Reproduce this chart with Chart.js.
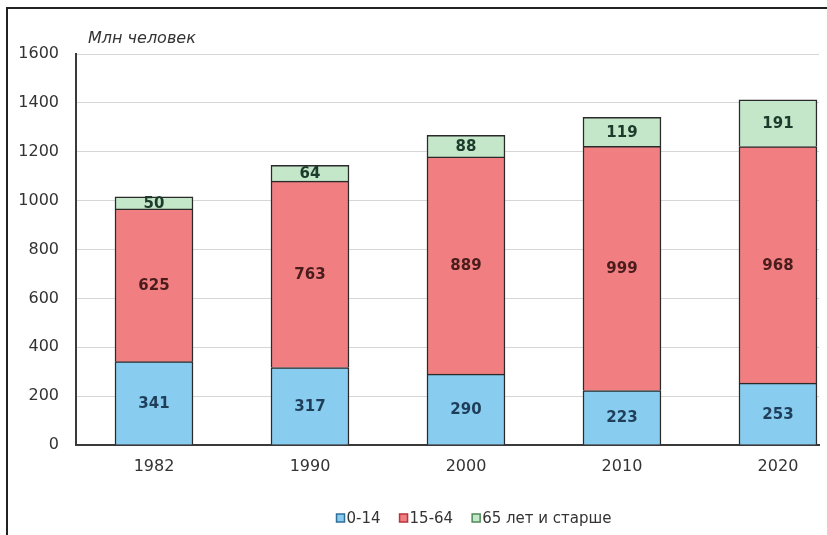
<!DOCTYPE html>
<html>
<head>
<meta charset="utf-8">
<script src="https://cdn.jsdelivr.net/npm/chart.js@4/dist/chart.umd.min.js"></script>
<style>
  html, body { margin: 0; padding: 0; background: #fff; }
  #wrap { position: relative; width: 827px; height: 535px; overflow: hidden; background: #fff; }
  #frame { position: absolute; left: 6px; top: 7px; right: -10px; bottom: -10px; border-left: 2px solid #222; border-top: 2px solid #222; pointer-events: none; }
  canvas { position: absolute; left: 0; top: 0; }
</style>
</head>
<body>
<div id="wrap">
  <canvas id="c" width="827" height="535"></canvas>
  <div id="frame"></div>
</div>
<script>
// ---- data ----
const categories = ['1982', '1990', '2000', '2010', '2020'];
const seriesNames = ['0-14', '15-64', '65 лет и старше'];
const age0_14 = [341, 317, 290, 223, 253];
const age15_64 = [625, 763, 889, 999, 968];
const age65plus = [50, 64, 88, 119, 191];
const yTicks = [0, 200, 400, 600, 800, 1000, 1200, 1400, 1600];
const unitLabel = 'Млн человек';

// ---- styles ----
const FONT = "'DejaVu Sans', sans-serif";
const fills = ['#88cdf0', '#f17f81', '#c4e6c9'];
const legendStrokes = ['#2f6f9a', '#b8333a', '#4f8a55'];
const labelColors = ['#1f3e5a', '#4a1c1c', '#1d3b2b'];

const toPoints = arr => arr.map((v, i) => ({ x: i, y: v }));

const valueLabels = {
  id: 'valueLabels',
  afterDatasetsDraw(chart) {
    const ctx = chart.ctx;
    ctx.save();
    ctx.font = 'bold 15px ' + FONT;
    ctx.textAlign = 'center';
    ctx.textBaseline = 'middle';
    chart.data.datasets.forEach((ds, di) => {
      const meta = chart.getDatasetMeta(di);
      meta.data.forEach((el, i) => {
        const v = ds.data[i].y;
        const cy = (el.y + el.base) / 2 + 1;
        ctx.fillStyle = labelColors[di];
        ctx.fillText(String(v), el.x, cy);
      });
    });
    ctx.restore();
  }
};

const unitTitle = {
  id: 'unitTitle',
  afterDraw(chart) {
    const ctx = chart.ctx;
    ctx.save();
    ctx.font = 'italic 16px ' + FONT;
    ctx.fillStyle = '#333';
    ctx.textAlign = 'left';
    ctx.textBaseline = 'alphabetic';
    ctx.fillText(unitLabel, 88, 43);
    ctx.restore();
  }
};

const bottomLegend = {
  id: 'bottomLegend',
  afterDraw(chart) {
    const ctx = chart.ctx;
    ctx.save();
    ctx.font = '15px ' + FONT;
    ctx.textBaseline = 'middle';
    const box = 8, gapBoxText = 2, gapItems = 19;
    const widths = chart.data.datasets.map(d => ctx.measureText(d.label).width);
    const total = widths.reduce((a, w) => a + box + gapBoxText + w, 0) + gapItems * (widths.length - 1);
    let x = 474 - total / 2;
    const cy = 518;
    chart.data.datasets.forEach((d, i) => {
      ctx.fillStyle = fills[i];
      ctx.fillRect(x, cy - box / 2, box, box);
      ctx.strokeStyle = legendStrokes[i];
      ctx.lineWidth = 1.5;
      ctx.strokeRect(x, cy - box / 2, box, box);
      x += box + gapBoxText;
      ctx.fillStyle = '#333';
      ctx.textAlign = 'left';
      ctx.fillText(d.label, x, cy + 1);
      x += widths[i] + gapItems;
    });
    ctx.restore();
  }
};

const mkDataset = (i, arr) => ({
  label: seriesNames[i],
  data: toPoints(arr),
  backgroundColor: fills[i],
  borderColor: '#2a2a2a',
  borderWidth: 1.5,
  borderSkipped: 'start',
  barThickness: 78
});

new Chart(document.getElementById('c'), {
  type: 'bar',
  data: {
    datasets: [mkDataset(0, age0_14), mkDataset(1, age15_64), mkDataset(2, age65plus)]
  },
  options: {
    responsive: false,
    animation: false,
    devicePixelRatio: 1,
    layout: { padding: { top: 54, right: 8, bottom: 34, left: 0 } },
    plugins: { legend: { display: false }, tooltip: { enabled: false } },
    scales: {
      x: {
        type: 'linear',
        stacked: true,
        offset: false,
        min: -0.5,
        max: 4.263,
        grid: { display: false, drawTicks: false, offset: false },
        border: { display: true, color: '#3a3a3a', width: 2 },
        afterBuildTicks(scale) { scale.ticks = categories.map((c, i) => ({ value: i })); },
        afterFit(scale) { scale.height = 56; },
        ticks: {
          autoSkip: false,
          maxRotation: 0,
          padding: 12,
          color: '#333',
          font: { family: FONT, size: 16 },
          callback: v => categories[v]
        }
      },
      y: {
        stacked: true,
        min: 0,
        max: 1600,
        afterBuildTicks(scale) { scale.ticks = yTicks.map(v => ({ value: v })); },
        afterFit(scale) { scale.width = 76; },
        grid: { color: '#d6d6d6', lineWidth: 1, drawTicks: false },
        border: { display: true, color: '#3a3a3a', width: 2 },
        ticks: {
          padding: 17,
          color: '#333',
          font: { family: FONT, size: 16 },
          callback: v => String(v)
        }
      }
    }
  },
  plugins: [valueLabels, unitTitle, bottomLegend]
});
</script>
</body>
</html>
